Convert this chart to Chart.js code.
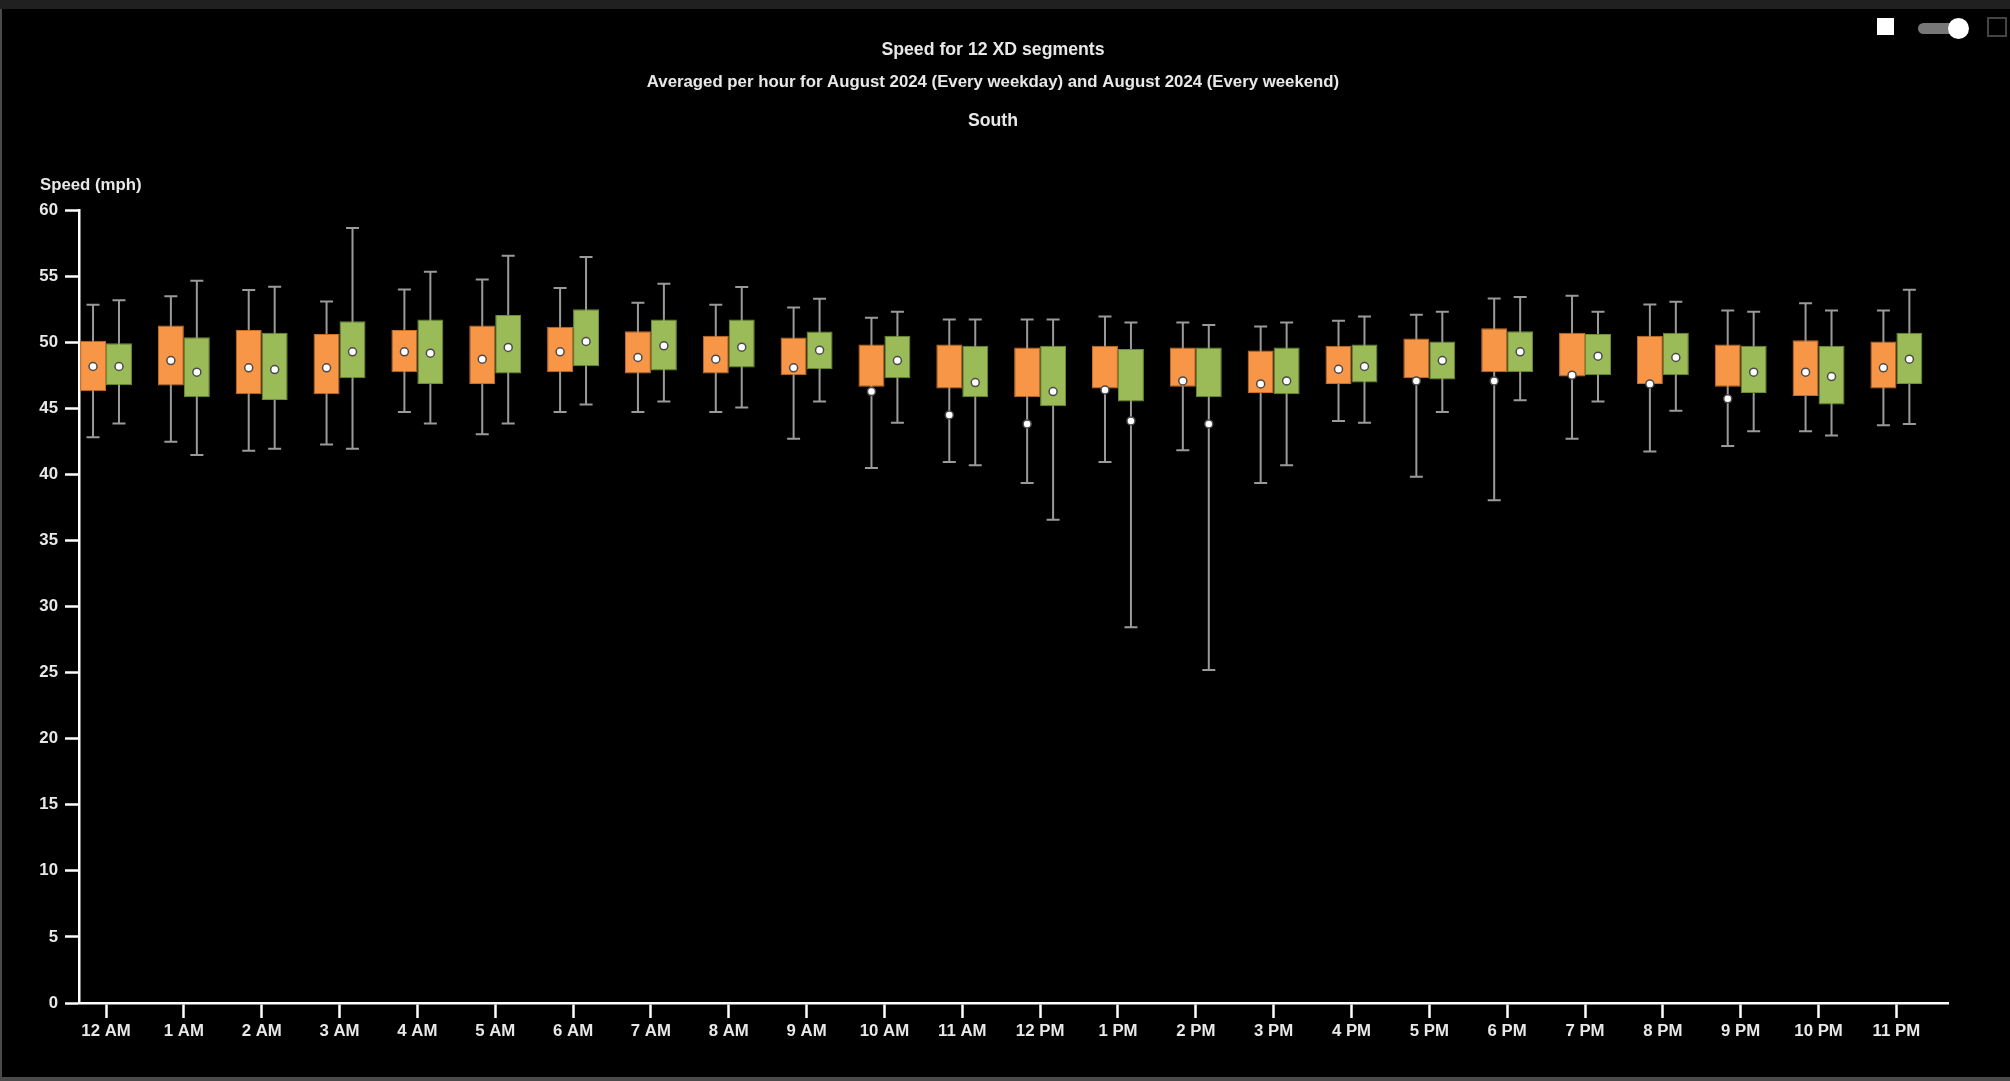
<!DOCTYPE html>
<html>
<head>
<meta charset="utf-8">
<script src="https://cdn.jsdelivr.net/npm/chart.js@4.4.1/dist/chart.umd.min.js"></script>
<style>
  html, body { margin: 0; padding: 0; background: #000; overflow: hidden; }
  #wrap { position: relative; width: 2010px; height: 1081px; background: #000; }
  #c { position: absolute; left: 0; top: 0; }
  .topband { position: absolute; left: 0; top: 0; width: 2010px; height: 9px; background: #202020; }
  .botband { position: absolute; left: 0; top: 1077px; width: 2010px; height: 4px; background: #4a4a4a; }
  .leftline { position: absolute; left: 0; top: 9px; width: 2px; height: 1068px; background: #4a4a4a; }
  .sq { position: absolute; left: 1877px; top: 18px; width: 17px; height: 17px; background: #fff; }
  .track { position: absolute; left: 1918px; top: 23px; width: 40px; height: 11px; background: #777; border-radius: 6px; }
  .knob { position: absolute; left: 1948px; top: 18px; width: 21px; height: 21px; background: #fff; border-radius: 50%; }
  .sq2 { position: absolute; left: 1987px; top: 17px; width: 16px; height: 16px; border: 2px solid #444; }
</style>
</head>
<body>
<div id="wrap">
  <canvas id="c" width="2010" height="1081"></canvas>
  <div class="topband"></div>
  <div class="botband"></div>
  <div class="leftline"></div>
  <div class="sq"></div>
  <div class="track"></div>
  <div class="knob"></div>
  <div class="sq2"></div>
</div>
<script>
const titleText = 'Speed for 12 XD segments';
const subtitleText = 'Averaged per hour for August 2024 (Every weekday) and August 2024 (Every weekend)';
const regionText = 'South';
const yAxisTitle = 'Speed (mph)';

const categories = ['12 AM','1 AM','2 AM','3 AM','4 AM','5 AM','6 AM','7 AM','8 AM','9 AM','10 AM','11 AM',
                    '12 PM','1 PM','2 PM','3 PM','4 PM','5 PM','6 PM','7 PM','8 PM','9 PM','10 PM','11 PM'];

// Weekday (orange)
const weekdayMin  = [42.80,42.47,41.79,42.25,44.72,43.03,44.72,44.72,44.72,42.70,40.48,40.93,39.34,40.93,41.82,39.34,44.04,39.82,38.03,42.70,41.72,42.15,43.26,43.71];
const weekdayQ1   = [46.29,46.72,46.06,46.06,47.73,46.84,47.73,47.63,47.63,47.50,46.62,46.49,45.83,46.49,46.62,46.16,46.84,47.27,47.73,47.40,46.84,46.62,45.93,46.49];
const weekdayQ3   = [50.10,51.26,50.93,50.61,50.93,51.26,51.16,50.83,50.48,50.35,49.82,49.82,49.60,49.72,49.60,49.37,49.72,50.28,51.06,50.71,50.48,49.82,50.15,50.05];
const weekdayMax  = [52.83,53.48,53.94,53.08,53.99,54.75,54.09,52.98,52.83,52.63,51.84,51.72,51.72,51.94,51.49,51.19,51.62,52.07,53.31,53.51,52.85,52.40,52.95,52.40];
const weekdayMean = [48.16,48.61,48.06,48.06,49.27,48.71,49.27,48.84,48.71,48.06,46.26,44.49,43.81,46.39,47.07,46.84,47.95,47.07,47.07,47.50,46.84,45.71,47.73,48.06];

// Weekend (green)
const weekendMin  = [43.84,41.46,41.94,41.94,43.84,43.84,45.28,45.51,45.05,45.51,43.91,40.68,36.57,28.43,25.20,40.68,43.91,44.72,45.61,45.51,44.82,43.26,42.93,43.81];
const weekendQ1   = [46.74,45.83,45.63,47.27,46.84,47.63,48.18,47.85,48.08,47.95,47.27,45.83,45.15,45.51,45.83,46.06,46.94,47.17,47.73,47.50,47.50,46.16,45.28,46.84];
const weekendQ3   = [49.92,50.38,50.71,51.59,51.72,52.05,52.50,51.72,51.72,50.81,50.48,49.72,49.72,49.49,49.60,49.60,49.82,50.05,50.83,50.61,50.71,49.72,49.72,50.71];
const weekendMax  = [53.18,54.65,54.19,58.64,55.33,56.54,56.44,54.42,54.17,53.28,52.30,51.72,51.72,51.49,51.29,51.49,51.94,52.30,53.41,52.30,53.06,52.30,52.40,53.97];
const weekendMean = [48.16,47.73,47.93,49.27,49.17,49.60,50.05,49.72,49.62,49.39,48.61,46.94,46.26,44.04,43.81,47.07,48.16,48.61,49.27,48.94,48.84,47.73,47.40,48.71];

const yTicks = [0,5,10,15,20,25,30,35,40,45,50,55,60];

const FONT = '"Liberation Sans", Arial, sans-serif';
const TEXT = '#e8e8e8';
const FSIZE = 16.8;
const TSIZE = 17.7;

const stats = [
  { min: weekdayMin, max: weekdayMax, mean: weekdayMean },
  { min: weekendMin, max: weekendMax, mean: weekendMean }
];

const boxPlugin = {
  id: 'boxExtras',
  beforeDatasetsDraw(chart) {
    const ctx = chart.ctx;
    const y = chart.scales.y;
    ctx.save();
    ctx.strokeStyle = '#9a9a9a';
    ctx.lineWidth = 2;
    stats.forEach((s, di) => {
      const meta = chart.getDatasetMeta(di);
      meta.data.forEach((el, i) => {
        const x = el.x;
        const yTop = y.getPixelForValue(s.max[i]);
        const yBot = y.getPixelForValue(s.min[i]);
        ctx.beginPath();
        ctx.moveTo(x, yTop); ctx.lineTo(x, yBot);
        ctx.moveTo(x - 6.5, yTop); ctx.lineTo(x + 6.5, yTop);
        ctx.moveTo(x - 6.5, yBot); ctx.lineTo(x + 6.5, yBot);
        ctx.stroke();
      });
    });
    ctx.restore();
  },
  afterDatasetsDraw(chart) {
    const ctx = chart.ctx;
    const y = chart.scales.y;
    ctx.save();
    stats.forEach((s, di) => {
      const meta = chart.getDatasetMeta(di);
      meta.data.forEach((el, i) => {
        const x = el.x;
        const yy = y.getPixelForValue(s.mean[i]);
        ctx.beginPath();
        ctx.arc(x, yy, 4, 0, Math.PI * 2);
        ctx.fillStyle = '#ffffff';
        ctx.fill();
        ctx.lineWidth = 1.5;
        ctx.strokeStyle = '#4a4a4a';
        ctx.stroke();
      });
    });
    ctx.restore();
  },
  afterDraw(chart) {
    const ctx = chart.ctx;
    ctx.save();
    ctx.fillStyle = TEXT;
    ctx.textAlign = 'center';
    ctx.textBaseline = 'middle';
    ctx.font = 'bold ' + TSIZE + 'px ' + FONT;
    ctx.fillText(titleText, 993, 50);
    ctx.font = 'bold ' + FSIZE + 'px ' + FONT;
    ctx.fillText(subtitleText, 993, 82);
    ctx.font = 'bold ' + TSIZE + 'px ' + FONT;
    ctx.fillText(regionText, 993, 121);
    ctx.textAlign = 'left';
    ctx.font = 'bold ' + FSIZE + 'px ' + FONT;
    ctx.fillText(yAxisTitle, 40, 185);
    ctx.restore();
  }
};

new Chart(document.getElementById('c'), {
  type: 'bar',
  data: {
    labels: categories,
    datasets: [
      {
        label: 'August 2024 (Every weekday)',
        data: weekdayQ1.map((v, i) => [v, weekdayQ3[i]]),
        backgroundColor: '#F79646',
        borderColor: '#c8702a',
        borderWidth: 1,
        borderSkipped: false,
        barPercentage: 1,
        categoryPercentage: 0.667
      },
      {
        label: 'August 2024 (Every weekend)',
        data: weekendQ1.map((v, i) => [v, weekendQ3[i]]),
        backgroundColor: '#9BBB59',
        borderColor: '#6f8f35',
        borderWidth: 1,
        borderSkipped: false,
        barPercentage: 1,
        categoryPercentage: 0.667
      }
    ]
  },
  options: {
    responsive: false,
    animation: false,
    devicePixelRatio: 1,
    layout: { padding: { left: 0, right: 62, top: 210, bottom: 18 } },
    plugins: {
      legend: { display: false },
      title: { display: false },
      tooltip: { enabled: false }
    },
    scales: {
      x: {
        type: 'category',
        offset: true,
        grid: { display: true, offset: false, drawOnChartArea: false, drawTicks: true, tickLength: 15, tickColor: '#ffffff', tickWidth: 2.5 },
        border: { display: true, color: '#ffffff', width: 2.5 },
        ticks: { color: TEXT, font: { family: FONT, size: FSIZE, weight: 'bold' }, padding: 3, maxRotation: 0, autoSkip: false },
        afterBuildTicks(scale) {
          scale._startValue = -0.347;
          scale._valueRange = 24.01;
        },
        afterFit(scale) { scale.height = 60; }
      },
      y: {
        min: 0, max: 60,
        afterBuildTicks(scale) { scale.ticks = yTicks.map(v => ({ value: v })); },
        grid: { display: true, drawOnChartArea: false, drawTicks: true, tickLength: 14, tickColor: '#ffffff', tickWidth: 2.5 },
        border: { display: true, color: '#ffffff', width: 2.5 },
        ticks: { color: TEXT, font: { family: FONT, size: FSIZE, weight: 'bold' }, padding: 7 },
        afterFit(scale) { scale.width = 79; }
      }
    }
  },
  plugins: [boxPlugin]
});
</script>
</body>
</html>
